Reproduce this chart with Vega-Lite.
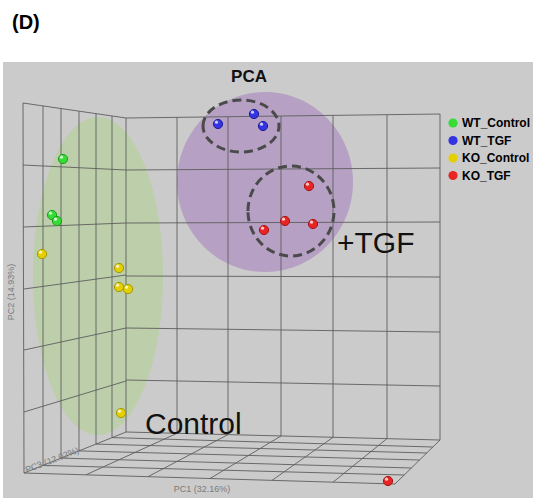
{
  "$schema": "https://vega.github.io/schema/vega-lite/v6.json",
  "autosize": {"type": "fit", "contains": "padding"},
  "width": 533,
  "height": 498,
  "padding": 0,
  "background": "white",
  "config": {"view": {"stroke": null}, "text": {"font": "Liberation Sans"}},
  "datasets": {
    "points": [
      {"group": "WT_Control", "x": 63, "y": 159},
      {"group": "WT_Control", "x": 52, "y": 215},
      {"group": "WT_Control", "x": 57, "y": 221},
      {"group": "KO_Control", "x": 42, "y": 254},
      {"group": "KO_Control", "x": 119, "y": 268},
      {"group": "KO_Control", "x": 119, "y": 287},
      {"group": "KO_Control", "x": 128, "y": 289},
      {"group": "KO_Control", "x": 121, "y": 413},
      {"group": "WT_TGF", "x": 218, "y": 124},
      {"group": "WT_TGF", "x": 254, "y": 114},
      {"group": "WT_TGF", "x": 263, "y": 126},
      {"group": "KO_TGF", "x": 309, "y": 186},
      {"group": "KO_TGF", "x": 285, "y": 221},
      {"group": "KO_TGF", "x": 313, "y": 224},
      {"group": "KO_TGF", "x": 264, "y": 230},
      {"group": "KO_TGF", "x": 388, "y": 481}
    ],
    "ellipses": [
      {"name": "Control", "cx": 98, "cy": 276},
      {"name": "TGF", "cx": 265, "cy": 182},
      {"name": "WT_TGF", "cx": 241, "cy": 126},
      {"name": "KO_TGF", "cx": 291, "cy": 211}
    ],
    "grid": [
      {"x": 126, "y": 118, "x2": 126, "y2": 432},
      {"x": 177, "y": 117.4, "x2": 177, "y2": 433.3},
      {"x": 228, "y": 116.7, "x2": 228, "y2": 434.6},
      {"x": 281, "y": 116, "x2": 281, "y2": 436},
      {"x": 333, "y": 115.4, "x2": 333, "y2": 437.3},
      {"x": 387, "y": 114.7, "x2": 387, "y2": 438.6},
      {"x": 440, "y": 114, "x2": 440, "y2": 440},
      {"x": 126, "y": 118, "x2": 440, "y2": 114},
      {"x": 126, "y": 170, "x2": 440, "y2": 168},
      {"x": 126, "y": 223, "x2": 440, "y2": 222},
      {"x": 126, "y": 276, "x2": 440, "y2": 277},
      {"x": 126, "y": 328, "x2": 440, "y2": 332},
      {"x": 126, "y": 380, "x2": 440, "y2": 386},
      {"x": 126, "y": 432, "x2": 440, "y2": 440},
      {"x": 23, "y": 103, "x2": 24, "y2": 473},
      {"x": 43, "y": 105.9, "x2": 43, "y2": 465.4},
      {"x": 61, "y": 108.5, "x2": 61, "y2": 458.1},
      {"x": 79, "y": 111.2, "x2": 79, "y2": 450.9},
      {"x": 96, "y": 113.6, "x2": 96, "y2": 444.1},
      {"x": 112, "y": 116, "x2": 112, "y2": 437.6},
      {"x": 23, "y": 103, "x2": 126, "y2": 118},
      {"x": 23, "y": 165, "x2": 126, "y2": 170},
      {"x": 23, "y": 227, "x2": 126, "y2": 223},
      {"x": 24, "y": 289, "x2": 126, "y2": 275},
      {"x": 24, "y": 350, "x2": 126, "y2": 328},
      {"x": 24, "y": 412, "x2": 126, "y2": 381},
      {"x": 24, "y": 473, "x2": 126, "y2": 432},
      {"x": 177, "y": 433.3, "x2": 86, "y2": 474.8},
      {"x": 228, "y": 434.6, "x2": 148, "y2": 476.7},
      {"x": 281, "y": 436, "x2": 210, "y2": 478.5},
      {"x": 333, "y": 437.3, "x2": 272, "y2": 480.4},
      {"x": 387, "y": 438.6, "x2": 333, "y2": 482.2},
      {"x": 440, "y": 440, "x2": 395, "y2": 484},
      {"x": 112, "y": 437.6, "x2": 432.8, "y2": 447},
      {"x": 96, "y": 444.1, "x2": 426.7, "y2": 453},
      {"x": 79, "y": 450.9, "x2": 419.5, "y2": 460},
      {"x": 61, "y": 458.1, "x2": 411.4, "y2": 468},
      {"x": 43, "y": 465.4, "x2": 404.2, "y2": 475},
      {"x": 24, "y": 473, "x2": 395, "y2": 484}
    ]
  },
  "encoding": {
    "x": {"type": "quantitative", "scale": {"domain": [0, 533], "nice": false, "zero": false}, "axis": null},
    "y": {"type": "quantitative", "scale": {"domain": [0, 498], "nice": false, "zero": false, "reverse": true}, "axis": null}
  },
  "layer": [
    {
      "data": {"values": [{}]},
      "mark": {"type": "rect", "color": "#cbcbcb"},
      "encoding": {"x": {"datum": 3}, "x2": {"datum": 533}, "y": {"datum": 62}, "y2": {"datum": 498}}
    },
    {
      "data": {"name": "ellipses"},
      "transform": [{"filter": "datum.name === 'Control'"}],
      "mark": {"type": "point", "shape": "M -0.409 0 A 0.409 1 0 1 1 0.409 0 A 0.409 1 0 1 1 -0.409 0 Z", "size": 101124, "filled": true, "fill": "#bccfaa", "opacity": 1, "strokeWidth": 0},
      "encoding": {"x": {"field": "cx", "type": "quantitative"}, "y": {"field": "cy", "type": "quantitative"}}
    },
    {
      "data": {"name": "ellipses"},
      "transform": [{"filter": "datum.name === 'TGF'"}],
      "mark": {"type": "point", "shape": "M -0.978 0 A 0.978 1 0 1 1 0.978 0 A 0.978 1 0 1 1 -0.978 0 Z", "size": 32400, "filled": true, "fill": "#b6a1c4", "opacity": 1, "strokeWidth": 0},
      "encoding": {"x": {"field": "cx", "type": "quantitative"}, "y": {"field": "cy", "type": "quantitative"}}
    },
    {
      "data": {"name": "grid"},
      "mark": {"type": "rule", "color": "#5e5e5e", "strokeWidth": 0.9},
      "encoding": {
        "x": {"field": "x", "type": "quantitative"},
        "y": {"field": "y", "type": "quantitative"},
        "x2": {"field": "x2"},
        "y2": {"field": "y2"}
      }
    },
    {
      "data": {"name": "ellipses"},
      "transform": [{"filter": "datum.name === 'WT_TGF'"}],
      "mark": {"type": "point", "shape": "M -1.4615 0 A 1.4615 1 0 1 1 1.4615 0 A 1.4615 1 0 1 1 -1.4615 0 Z", "size": 2704, "filled": false, "stroke": "#4a4a4a", "strokeWidth": 3, "strokeDash": [9, 5], "opacity": 1},
      "encoding": {"x": {"field": "cx", "type": "quantitative"}, "y": {"field": "cy", "type": "quantitative"}}
    },
    {
      "data": {"name": "ellipses"},
      "transform": [{"filter": "datum.name === 'KO_TGF'"}],
      "mark": {"type": "point", "shape": "M -0.956 0 A 0.956 1 0 1 1 0.956 0 A 0.956 1 0 1 1 -0.956 0 Z", "size": 8100, "filled": false, "stroke": "#4a4a4a", "strokeWidth": 3, "strokeDash": [9, 5], "opacity": 1},
      "encoding": {"x": {"field": "cx", "type": "quantitative"}, "y": {"field": "cy", "type": "quantitative"}}
    },
    {
      "data": {"name": "points"},
      "mark": {"type": "point", "shape": "circle", "filled": true, "size": 85, "opacity": 1, "strokeWidth": 1},
      "encoding": {
        "x": {"field": "x", "type": "quantitative"},
        "y": {"field": "y", "type": "quantitative"},
        "fill": {
          "field": "group", "type": "nominal",
          "scale": {"domain": ["WT_Control", "WT_TGF", "KO_Control", "KO_TGF"], "range": ["#36dc36", "#3434e4", "#e4d000", "#e82424"]},
          "legend": {
            "orient": "none", "legendX": 447, "legendY": 117, "title": null,
            "symbolType": "circle", "symbolSize": 85, "symbolStrokeWidth": 0, "symbolOpacity": 1,
            "labelFont": "Liberation Sans", "labelFontSize": 12, "labelFontWeight": "bold", "labelColor": "#000",
            "rowPadding": 5.5, "padding": 0, "labelOffset": 3
          }
        },
        "stroke": {
          "field": "group", "type": "nominal",
          "scale": {"domain": ["WT_Control", "WT_TGF", "KO_Control", "KO_TGF"], "range": ["#1f9a1f", "#1c1c98", "#a69500", "#a41414"]},
          "legend": null
        }
      }
    },
    {
      "data": {"name": "points"},
      "mark": {"type": "point", "shape": "circle", "filled": true, "size": 10, "color": "white", "opacity": 0.75, "xOffset": -1.5, "yOffset": -1.8},
      "encoding": {
        "x": {"field": "x", "type": "quantitative"},
        "y": {"field": "y", "type": "quantitative"}
      }
    },
    {
      "data": {"values": [{}]},
      "mark": {"type": "text", "text": "(D)", "fontSize": 20, "fontWeight": "bold", "align": "left", "baseline": "alphabetic", "color": "#000"},
      "encoding": {"x": {"datum": 12}, "y": {"datum": 29}}
    },
    {
      "data": {"values": [{}]},
      "mark": {"type": "text", "text": "PCA", "fontSize": 17, "fontWeight": "bold", "align": "center", "baseline": "alphabetic", "color": "#111"},
      "encoding": {"x": {"datum": 249}, "y": {"datum": 82}}
    },
    {
      "data": {"values": [{}]},
      "mark": {"type": "text", "text": "+TGF", "fontSize": 30, "align": "left", "baseline": "alphabetic", "color": "#111"},
      "encoding": {"x": {"datum": 337}, "y": {"datum": 253}}
    },
    {
      "data": {"values": [{}]},
      "mark": {"type": "text", "text": "Control", "fontSize": 30, "align": "left", "baseline": "alphabetic", "color": "#111"},
      "encoding": {"x": {"datum": 145}, "y": {"datum": 434}}
    },
    {
      "data": {"values": [{}]},
      "mark": {"type": "text", "text": "PC2 (14.93%)", "fontSize": 9, "angle": 270, "align": "center", "baseline": "middle", "color": "#7a7a7a"},
      "encoding": {"x": {"datum": 11}, "y": {"datum": 292}}
    },
    {
      "data": {"values": [{}]},
      "mark": {"type": "text", "text": "PC3 (12.02%)", "fontSize": 9, "angle": 339, "align": "center", "baseline": "middle", "color": "#7a7a7a"},
      "encoding": {"x": {"datum": 52}, "y": {"datum": 460}}
    },
    {
      "data": {"values": [{}]},
      "mark": {"type": "text", "text": "PC1 (32.16%)", "fontSize": 9, "align": "center", "baseline": "middle", "color": "#7a7a7a"},
      "encoding": {"x": {"datum": 202}, "y": {"datum": 489}}
    }
  ]
}
